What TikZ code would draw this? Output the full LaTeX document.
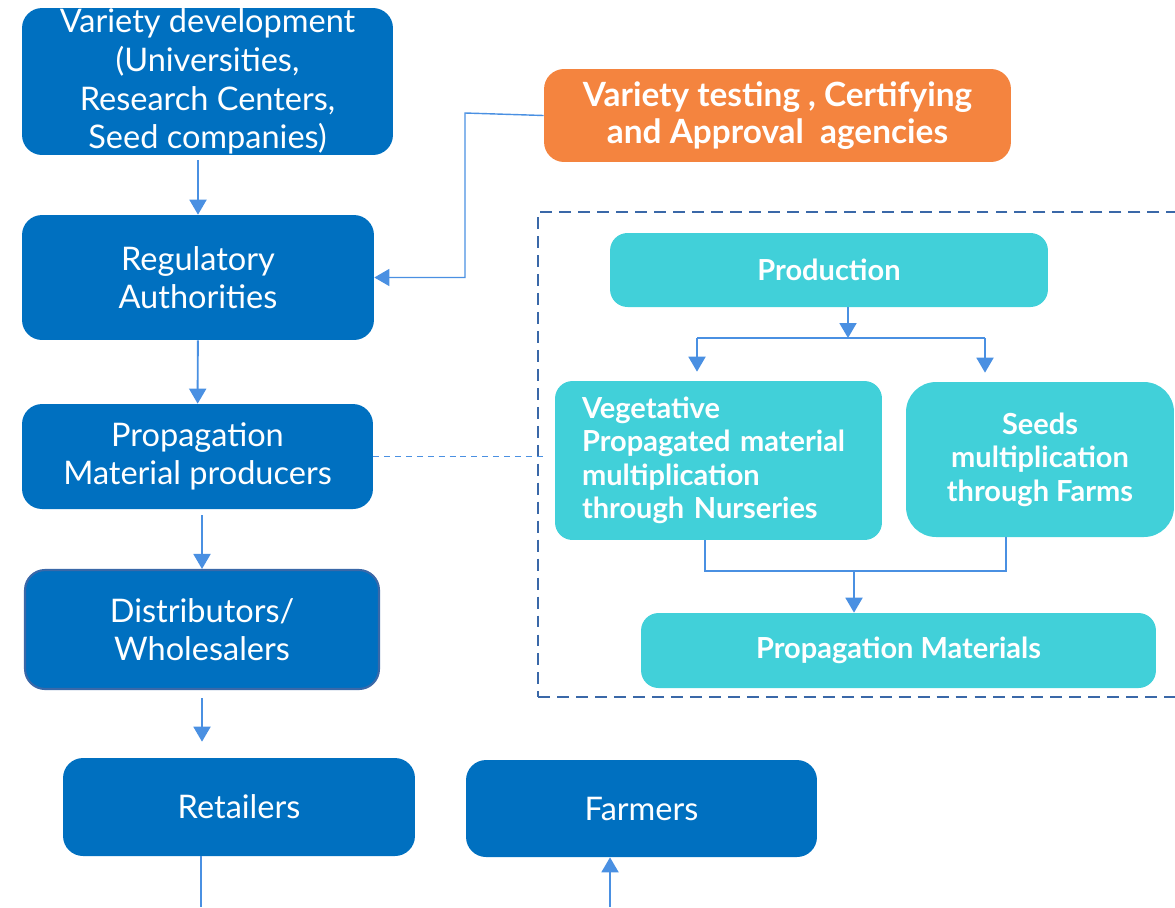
\documentclass[tikz,border=0pt]{standalone}
\usepackage{fontspec}
\setmainfont{Lato}
\usetikzlibrary{arrows.meta}
\definecolor{darkbox}{HTML}{0070C0}
\definecolor{orangebox}{HTML}{F4843F}
\definecolor{cyanbox}{HTML}{41D0D9}
\definecolor{arrowblue}{HTML}{4A90E2}
\definecolor{groupblue}{HTML}{3A68A8}

\begin{document}
\begin{tikzpicture}[x=0.02cm,y=-0.02cm,
    darknode/.style={fill=darkbox, rounded corners=0.4cm, text=white, align=center,
        font=\fontsize{18.5}{22}\selectfont, inner sep=0pt},
    testnode/.style={darknode, fill=orangebox, font=\fontsize{19}{21.5}\selectfont\bfseries},
    cyannode/.style={fill=cyanbox, rounded corners=0.35cm, text=white, align=center,
        font=\fontsize{16.5}{19}\selectfont\bfseries, inner sep=0pt},
    flow/.style={arrowblue, line width=1.1pt, -{Triangle[width=0.34cm,length=0.3cm]}},
    link/.style={arrowblue, line width=0.8pt}]
    \useasboundingbox (0,0) rectangle (1175,907);
    %\draw[help lines] (0,0) grid[step=50] (1175,907);

    % chain on the left
    \node[darknode, minimum width=7.42cm, minimum height=2.94cm] (dev) at (207.5,81.5)
        {Variety development\\(Universities,\\Research Centers,\\Seed companies)};
    \node[testnode, minimum width=9.34cm, minimum height=1.86cm] (test) at (777.5,115.5)
        {Variety testing , Certifying\\and Approval\ \ agencies};
    \node[darknode, minimum width=7.04cm, minimum height=2.5cm] (reg) at (198,277.5)
        {Regulatory\\Authorities};
    \node[darknode, minimum width=7.02cm, minimum height=2.1cm] (pro) at (197.5,456.5)
        {Propagation\\Material producers};
    \node[darknode, draw=groupblue, line width=1.2pt, minimum width=7.08cm, minimum height=2.38cm]
        (dist) at (202,629.5) {Distributors/\\Wholesalers};
    \node[darknode, minimum width=7.04cm, minimum height=1.96cm] (ret) at (239,807) {Retailers};
    \node[darknode, minimum width=7.02cm, minimum height=1.94cm] (farm) at (641.5,808.5) {Farmers};

    % production group
    \node[draw=groupblue, line width=1.2pt, dash pattern=on 6.8pt off 4pt,
        minimum width=12.94cm, minimum height=9.7cm] (group) at (861.5,454.5) {};
    \node[cyannode, minimum width=8.76cm, minimum height=1.48cm] (prod) at (829,270) {Production};
    \node[cyannode, align=left, text width=5.46cm, inner xsep=0.54cm, minimum height=3.18cm]
        (veg) at (718.5,460.5)
        {Vegetative\\Propagated material\\multiplication\\through Nurseries};
    \node[cyannode, rounded corners=0.6cm, minimum width=5.36cm, minimum height=3.1cm]
        (seed) at (1040,459.5) {Seeds\\multiplication\\through Farms};
    \node[cyannode, minimum width=10.3cm, minimum height=1.5cm] (mat) at (898.5,650.5)
        {Propagation Materials};

    % connectors
    \draw[flow, shorten <=0.1cm] (reg.north |- dev.south) -- (reg.north);
    \coordinate (bend) at (465,113);
    \draw[link, -{Triangle[width=0.34cm,length=0.3cm]}] (test.west) -- (bend) |- (reg.east);
    \draw[flow] (reg) -- (pro);
    \draw[flow, shorten <=0.12cm] (dist.north |- pro.south) -- (dist.north);
    \draw[flow, shorten <=0.16cm, shorten >=0.32cm] (dist.south) -- (dist.south |- ret.north);
    \coordinate (retout) at (201,907);
    \draw[link, line width=1.1pt] (retout |- ret.south) -- (retout);
    \coordinate (farmin) at (610,907);
    \draw[flow] (farmin) -- (farmin |- farm.south);
    \draw[link, dash pattern=on 3.4pt off 2.8pt, shorten >=-0.14cm] (pro.east) -- (pro.east -| group.west);

    \coordinate (split) at (848,338);
    \coordinate (vegin) at (697,338);
    \coordinate (seedin) at (985,338);
    \draw[flow] (split |- prod.south) -- (split);
    \draw[link, line width=1.1pt] (vegin) -- (seedin);
    \draw[flow, shorten >=0.18cm] (vegin) -- (vegin |- veg.north);
    \draw[flow, shorten >=0.18cm] (seedin) -- (seedin |- seed.north);

    \coordinate (vegout) at (705,571);
    \coordinate (seedout) at (1006,571);
    \coordinate (join) at (854,571);
    \draw[link] (vegout |- veg.south) -- (vegout) -- (seedout) -- (seedout |- seed.south);
    \draw[flow] (join) -- (join |- mat.north);
\end{tikzpicture}
\end{document}
